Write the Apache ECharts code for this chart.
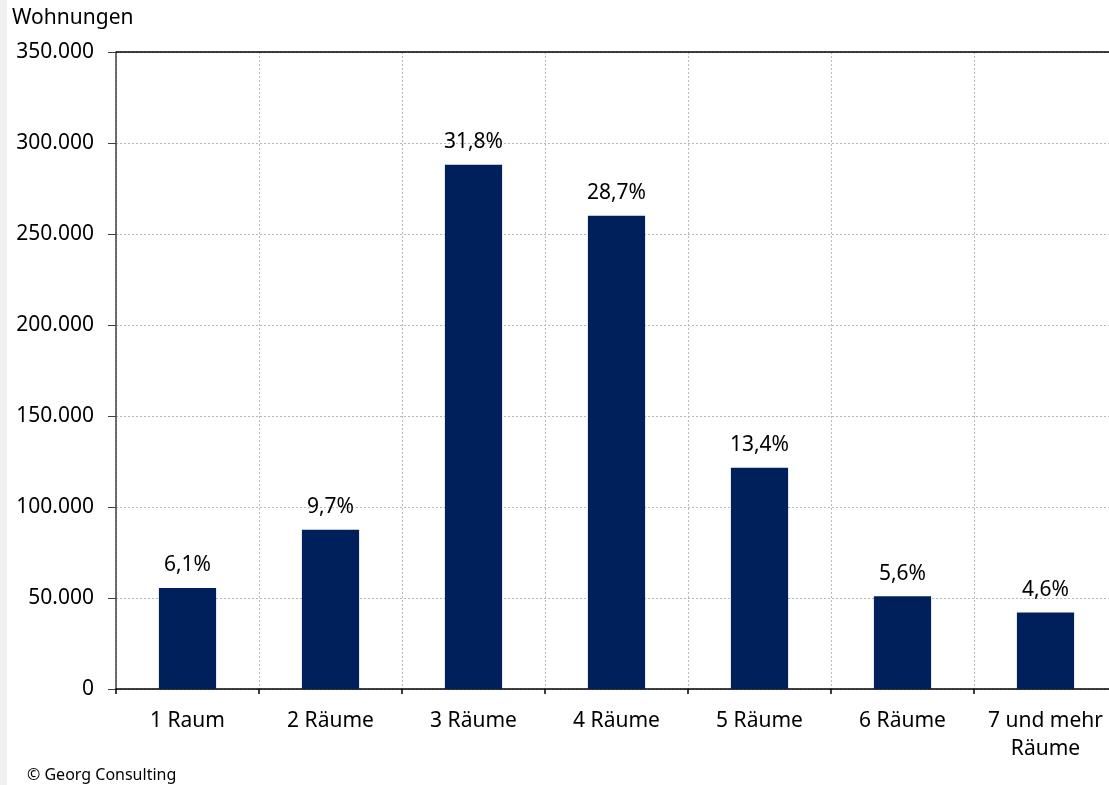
<!DOCTYPE html>
<html><head><meta charset="utf-8">
<script src="https://cdn.jsdelivr.net/npm/echarts@6/dist/echarts.min.js"></script>
<style>html,body{margin:0;padding:0;background:#fff;overflow:hidden;width:1109px;height:785px}#c{width:1117px;height:785px}</style>
</head><body><div id="c"></div>
<script>
const categories = ['1 Raum', '2 Räume', '3 Räume', '4 Räume', '5 Räume', '6 Räume', '7 und mehr\nRäume'];
const wohnungen = [55500, 87500, 288000, 260000, 121500, 51000, 42000];
const anteile = ['6,1%', '9,7%', '31,8%', '28,7%', '13,4%', '5,6%', '4,6%'];
const yTicks = [0, 50000, 100000, 150000, 200000, 250000, 300000, 350000];

const FONT = '"Noto Sans", "Open Sans", sans-serif';
const FS = 21;
const chart = echarts.init(document.getElementById('c'), null, {renderer: 'canvas'});
chart.setOption({
  animation: false,
  backgroundColor: '#ffffff',
  textStyle: {fontFamily: FONT},
  graphic: [
    {type: 'rect', left: 0, top: 0, shape: {width: 7, height: 785}, style: {fill: '#f0f0f0'}, silent: true},
    {type: 'text', left: 12, top: 8, style: {text: 'Wohnungen', font: FS + 'px ' + FONT, fill: '#000'}},
    {type: 'text', left: 27, top: 767, style: {text: '© Georg Consulting', font: '16px ' + FONT, fill: '#000'}}
  ],
  grid: {left: 116, right: 0, top: 52, height: 637, containLabel: false},
  xAxis: {
    type: 'category',
    data: categories,
    axisLine: {show: true, lineStyle: {color: '#000', width: 1.5}},
    axisTick: {show: true, length: 5, lineStyle: {color: '#000', width: 1.5}},
    axisLabel: {color: '#000', fontSize: FS, fontFamily: FONT, margin: 18, lineHeight: 28, interval: 0},
    splitLine: {show: true, lineStyle: {color: '#b8b8b8', type: [2, 2], width: 1}}
  },
  yAxis: {
    type: 'value',
    min: 0, max: 350000, interval: 50000,
    axisLine: {show: true, lineStyle: {color: '#404040', width: 1.5}},
    axisTick: {show: true, length: 8, lineStyle: {color: '#404040', width: 1}},
    axisLabel: {
      color: '#000', fontSize: FS, fontFamily: FONT, margin: 22,
      formatter: v => yTicks.includes(v) ? (v === 0 ? '0' : (v / 1000).toFixed(0) + '.000') : ''
    },
    splitLine: {show: true, lineStyle: {color: '#b8b8b8', type: [2, 2], width: 1}}
  },
  series: [{
    type: 'bar',
    data: wohnungen,
    barWidth: '40%',
    itemStyle: {color: '#00205c'},
    label: {
      show: true, position: 'top', distance: 12,
      color: '#000', fontSize: FS, fontFamily: FONT,
      formatter: p => anteile[p.dataIndex]
    },
    markLine: {
      silent: true, symbol: 'none', label: {show: false},
      lineStyle: {color: '#000', type: 'solid', width: 1.5},
      data: [{yAxis: 350000}]
    }
  }]
});
</script></body></html>
